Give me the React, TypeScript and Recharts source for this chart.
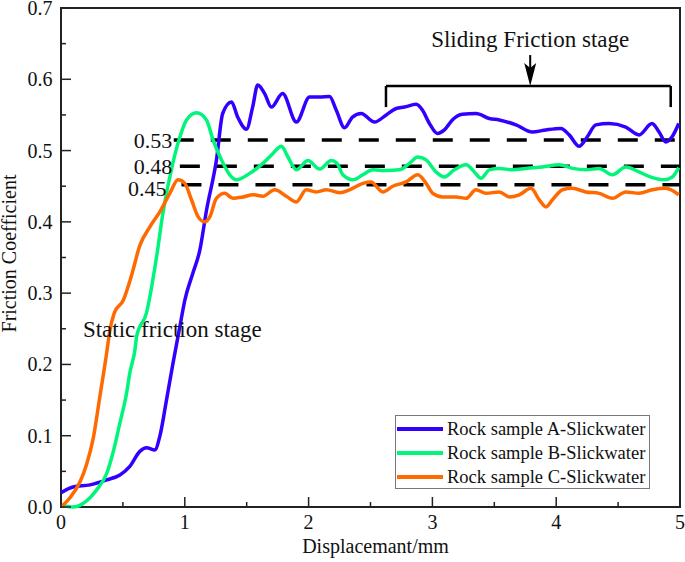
import React from 'react';
import { LineChart, Line, XAxis, YAxis, ReferenceLine, ReferenceArea, ReferenceDot, Legend, Label } from 'recharts';

const FONT = '"Liberation Serif", "Times New Roman", serif';

const xTicks = [0, 0.5, 1, 1.5, 2, 2.5, 3, 3.5, 4, 4.5, 5];
const yTicks = [0, 0.05, 0.1, 0.15, 0.2, 0.25, 0.3, 0.35, 0.4, 0.45, 0.5, 0.55, 0.6, 0.65, 0.7];

// Rock sample A (blue)
const sampleAX = [0, 0.097, 0.234, 0.369, 0.476, 0.556, 0.637, 0.691, 0.758, 0.798, 0.852, 0.903, 0.96, 1.0, 1.065, 1.121, 1.175, 1.256, 1.306, 1.377, 1.427, 1.498, 1.548, 1.589, 1.645, 1.699, 1.79, 1.901, 2.008, 2.089, 2.169, 2.223, 2.29, 2.355, 2.425, 2.532, 2.627, 2.707, 2.774, 2.869, 2.919, 2.976, 3.04, 3.097, 3.161, 3.242, 3.352, 3.46, 3.54, 3.675, 3.806, 3.917, 4.038, 4.105, 4.185, 4.25, 4.32, 4.427, 4.562, 4.669, 4.774, 4.831, 4.885, 4.935, 4.99];
const sampleAY = [0.02, 0.028, 0.031, 0.038, 0.045, 0.057, 0.078, 0.083, 0.08, 0.099, 0.15, 0.2, 0.253, 0.29, 0.328, 0.36, 0.416, 0.487, 0.552, 0.568, 0.547, 0.53, 0.561, 0.592, 0.58, 0.561, 0.58, 0.54, 0.575, 0.575, 0.576, 0.557, 0.532, 0.547, 0.552, 0.54, 0.55, 0.559, 0.561, 0.565, 0.557, 0.538, 0.524, 0.529, 0.543, 0.551, 0.552, 0.545, 0.543, 0.536, 0.526, 0.529, 0.531, 0.522, 0.506, 0.519, 0.536, 0.538, 0.533, 0.522, 0.538, 0.526, 0.512, 0.519, 0.538];

// Rock sample B (green)
const sampleBX = [0, 0.097, 0.178, 0.234, 0.288, 0.369, 0.42, 0.476, 0.53, 0.556, 0.597, 0.612, 0.69, 0.772, 0.823, 0.903, 0.96, 1.014, 1.095, 1.175, 1.228, 1.296, 1.363, 1.417, 1.524, 1.631, 1.712, 1.78, 1.833, 1.901, 1.995, 2.089, 2.183, 2.23, 2.277, 2.358, 2.438, 2.519, 2.627, 2.734, 2.815, 2.882, 2.949, 3.03, 3.097, 3.177, 3.272, 3.339, 3.393, 3.46, 3.54, 3.648, 3.756, 3.889, 4.024, 4.131, 4.239, 4.347, 4.454, 4.562, 4.669, 4.777, 4.871, 4.938, 4.99];
const sampleBY = [0.003, 0.0, 0.005, 0.013, 0.024, 0.047, 0.076, 0.118, 0.16, 0.188, 0.22, 0.24, 0.272, 0.351, 0.412, 0.482, 0.519, 0.543, 0.553, 0.543, 0.515, 0.487, 0.466, 0.459, 0.468, 0.482, 0.496, 0.506, 0.491, 0.473, 0.486, 0.474, 0.486, 0.482, 0.466, 0.459, 0.466, 0.473, 0.472, 0.473, 0.482, 0.491, 0.487, 0.47, 0.463, 0.473, 0.48, 0.47, 0.461, 0.473, 0.475, 0.473, 0.475, 0.477, 0.48, 0.475, 0.473, 0.475, 0.466, 0.477, 0.47, 0.462, 0.459, 0.463, 0.476];

// Rock sample C (orange)
const sampleCX = [0, 0.072, 0.153, 0.207, 0.261, 0.314, 0.368, 0.395, 0.43, 0.503, 0.57, 0.637, 0.718, 0.798, 0.879, 0.946, 1.0, 1.054, 1.108, 1.161, 1.202, 1.255, 1.323, 1.389, 1.47, 1.551, 1.631, 1.726, 1.82, 1.901, 1.981, 2.062, 2.143, 2.25, 2.331, 2.438, 2.505, 2.599, 2.68, 2.788, 2.882, 2.949, 3.003, 3.083, 3.191, 3.272, 3.352, 3.433, 3.54, 3.621, 3.702, 3.796, 3.863, 3.917, 3.97, 4.051, 4.131, 4.239, 4.347, 4.454, 4.562, 4.669, 4.777, 4.885, 4.99];
const sampleCY = [0.0, 0.013, 0.035, 0.06, 0.097, 0.155, 0.215, 0.248, 0.272, 0.29, 0.325, 0.367, 0.393, 0.414, 0.44, 0.459, 0.454, 0.431, 0.407, 0.4, 0.407, 0.433, 0.44, 0.433, 0.435, 0.438, 0.436, 0.445, 0.436, 0.428, 0.445, 0.442, 0.445, 0.441, 0.445, 0.454, 0.456, 0.442, 0.45, 0.456, 0.466, 0.454, 0.44, 0.435, 0.435, 0.433, 0.445, 0.44, 0.442, 0.435, 0.438, 0.447, 0.431, 0.421, 0.431, 0.445, 0.447, 0.442, 0.44, 0.433, 0.442, 0.44, 0.445, 0.447, 0.438];

const seriesNames = ['Rock sample A-Slickwater', 'Rock sample B-Slickwater', 'Rock sample C-Slickwater'];
const seriesColors = ['#3300ff', '#00f57a', '#ff6a00'];
const legendThickness = [4.5, 3.5, 3.5];

// reference levels: drawn position, printed label, start on x
const levelValues = [0.515, 0.478, 0.452];
const levelLabels = ['0.53', '0.48', '0.45'];
const levelStarts = [0.911, 0.96, 0.973];
const levelLabelOffsets = [1.5, 7.5, 15];
const levelLabelDy = [0, 0, 3];

const toPoints = (xs: number[], ys: number[]) => xs.map((x, i) => ({ x, y: ys[i] }));
const series = [
  toPoints(sampleAX, sampleAY),
  toPoints(sampleBX, sampleBY),
  toPoints(sampleCX, sampleCY),
];

function XTick({ x, y, payload }: any) {
  const v = payload.value;
  const major = Math.abs(v - Math.round(v)) < 1e-6;
  return (
    <g>
      <line x1={x} x2={x} y1={y} y2={y - (major ? 10 : 5)} stroke="#222" strokeWidth={1.5} />
      {major && (
        <text x={x} y={y + 22} textAnchor="middle" fontSize={20} fontFamily={FONT} fill="#111">
          {v}
        </text>
      )}
    </g>
  );
}

function YTick({ x, y, payload }: any) {
  const v = payload.value;
  const major = Math.round(v * 100) % 10 === 0;
  return (
    <g>
      <line x1={x} x2={x + (major ? 10 : 5)} y1={y} y2={y} stroke="#222" strokeWidth={1.5} />
      {major && (
        <text x={x - 8.5} y={y} dy="0.35em" textAnchor="end" fontSize={20} fontFamily={FONT} fill="#111">
          {v.toFixed(1)}
        </text>
      )}
    </g>
  );
}

function LegendBox() {
  return (
    <div
      style={{
        boxSizing: 'border-box',
        width: 255,
        height: 74,
        border: '1px solid #777',
        background: '#fff',
        paddingTop: 1,
        fontFamily: FONT,
        fontSize: 18.5,
        lineHeight: '24px',
        color: '#111',
      }}
    >
      {seriesNames.map((name, i) => (
        <div key={name} style={{ display: 'flex', alignItems: 'center', height: 24 }}>
          <div style={{ width: 46, height: legendThickness[i], marginLeft: 1, background: seriesColors[i] }} />
          <span style={{ marginLeft: 4, whiteSpace: 'nowrap' }}>{name}</span>
        </div>
      ))}
    </div>
  );
}

export default function App() {
  return (
    <div style={{ position: 'absolute', left: 0, top: 0, background: '#fff' }}>
      <LineChart width={685} height={562} margin={{ top: 8, right: 5, left: 0, bottom: 0 }}>
        <XAxis
          type="number"
          dataKey="x"
          domain={[0, 5]}
          ticks={xTicks}
          interval={0}
          axisLine={false}
          tickLine={false}
          tickSize={0}
          tickMargin={0}
          height={55}
          tick={<XTick />}
        >
          <Label
            content={({ viewBox }: any) => (
              <text
                x={viewBox.x + viewBox.width / 2 + 5}
                y={viewBox.y + 46}
                textAnchor="middle"
                fontSize={20}
                fontFamily={FONT}
                fill="#111"
              >
                Displacemant/mm
              </text>
            )}
          />
        </XAxis>
        <YAxis
          type="number"
          dataKey="y"
          domain={[0, 0.7]}
          ticks={yTicks}
          interval={0}
          axisLine={false}
          tickLine={false}
          tickSize={0}
          tickMargin={0}
          width={61}
          tick={<YTick />}
        >
          <Label
            content={({ viewBox }: any) => {
              const cy = viewBox.y + viewBox.height / 2 - 4;
              return (
                <text
                  x={16}
                  y={cy}
                  transform={`rotate(-90, 16, ${cy})`}
                  textAnchor="middle"
                  fontSize={20}
                  fontFamily={FONT}
                  fill="#111"
                >
                  Friction Coefficient
                </text>
              );
            }}
          />
        </YAxis>

        <ReferenceArea x1={0} x2={5} y1={0} y2={0.7} fill="none" stroke="#222" strokeWidth={2} />

        {levelValues.map((v, i) => (
          <ReferenceLine
            key={levelLabels[i]}
            segment={[{ x: levelStarts[i], y: v }, { x: 5, y: v }]}
            stroke="#000"
            strokeWidth={3.5}
            strokeDasharray="20 17"
            label={{
              value: levelLabels[i],
              position: 'left',
              offset: levelLabelOffsets[i],
              fontSize: 22,
              fontFamily: FONT,
              fill: '#111',
              dy: levelLabelDy[i],
            }}
          />
        ))}

        {/* sliding stage bracket and arrow */}
        <ReferenceLine segment={[{ x: 2.625, y: 0.5905 }, { x: 4.925, y: 0.5905 }]} stroke="#000" strokeWidth={2.5} />
        <ReferenceLine segment={[{ x: 2.625, y: 0.5905 }, { x: 2.625, y: 0.561 }]} stroke="#000" strokeWidth={2.5} />
        <ReferenceLine segment={[{ x: 4.925, y: 0.5905 }, { x: 4.925, y: 0.561 }]} stroke="#000" strokeWidth={2.5} />
        <ReferenceLine segment={[{ x: 3.79, y: 0.634 }, { x: 3.79, y: 0.61 }]} stroke="#000" strokeWidth={2} />
        <ReferenceDot
          x={3.79}
          y={0.5905}
          r={0}
          shape={(p: any) => (
            <polygon
              points={`${p.cx},${p.cy} ${p.cx - 6},${p.cy - 23} ${p.cx},${p.cy - 18} ${p.cx + 6},${p.cy - 23}`}
              fill="#000"
            />
          )}
        />
        <ReferenceDot
          x={2.99}
          y={0.645}
          r={0}
          shape={(p: any) => (
            <text x={p.cx} y={p.cy} fontSize={23} fontFamily={FONT} fill="#111">
              Sliding Friction stage
            </text>
          )}
        />
        <ReferenceDot
          x={0.177}
          y={0.238}
          r={0}
          shape={(p: any) => (
            <text x={p.cx} y={p.cy} fontSize={23} fontFamily={FONT} fill="#111">
              Static friction stage
            </text>
          )}
        />

        {series.map((pts, i) => (
          <Line
            key={seriesNames[i]}
            data={pts}
            dataKey="y"
            name={seriesNames[i]}
            type="monotone"
            stroke={seriesColors[i]}
            strokeWidth={3.5}
            dot={false}
            activeDot={false}
            isAnimationActive={false}
          />
        ))}

        <Legend
          layout="horizontal"
          verticalAlign="middle"
          align="center"
          wrapperStyle={{ left: 395, top: 415, width: 255, height: 74 }}
          content={() => <LegendBox />}
        />
      </LineChart>
    </div>
  );
}
